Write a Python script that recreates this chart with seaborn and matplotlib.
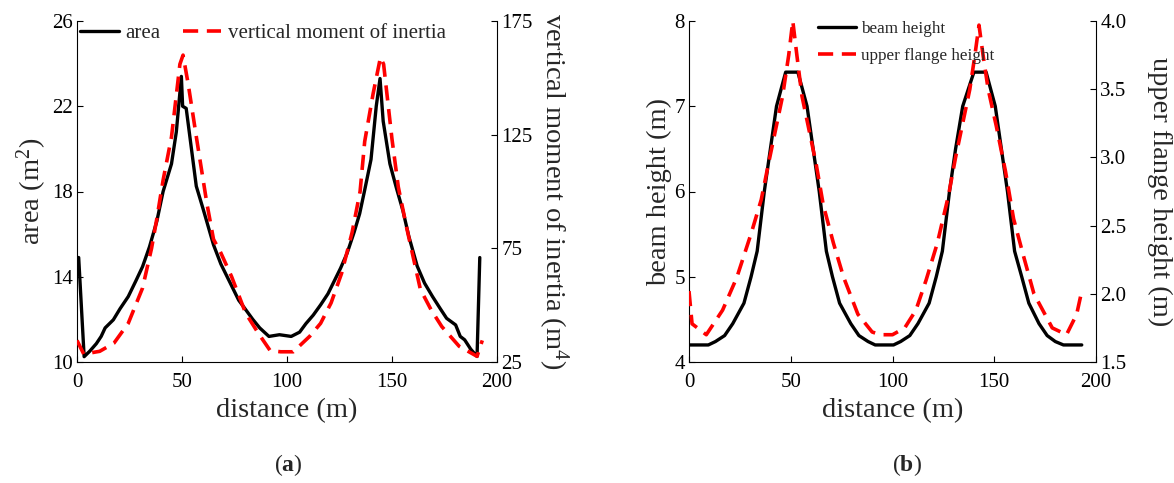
import numpy as np
import pandas as pd
import matplotlib
matplotlib.use("Agg")
import matplotlib.pyplot as plt
import seaborn as sns

# ---------------- data (a) ----------------
area_x = [0, 0.8, 3.4, 6, 9.2, 11.5, 13.4, 17.3, 20.5, 24.4, 28, 31.2, 34.5, 38, 41, 45, 47.3,
          49.7, 50.3, 52, 54.5, 56.8, 60, 65, 68.5, 72, 77, 80, 83.7, 87, 91.4, 96.4, 102, 106,
          109, 112.5, 116, 119.5, 122.7, 125.5, 128.6, 132, 134.6, 137, 140, 142.5, 144.3, 145.8,
          149, 152, 155.2, 158, 162, 165.5, 169.3, 173, 176, 180.3, 182.5, 184.6, 187.5, 190.5, 191.8]
area_y = [14.9, 14.9, 10.25, 10.5, 10.86, 11.2, 11.6, 11.98, 12.5, 13.07, 13.8, 14.47, 15.4, 16.6,
          18.0, 19.3, 20.8, 23.4, 22.0, 21.9, 20.0, 18.25, 17.2, 15.5, 14.6, 13.9, 12.9, 12.5, 12.0,
          11.6, 11.2, 11.28, 11.2, 11.4, 11.8, 12.2, 12.68, 13.2, 13.84, 14.4, 15.1, 16.1, 16.96,
          18.07, 19.5, 22.0, 23.3, 21.3, 19.3, 18.2, 17.1, 15.9, 14.5, 13.7, 13.07, 12.5, 12.05,
          11.74, 11.2, 11.04, 10.6, 10.26, 14.9]

inertia_x = [0, 3.2, 10.8, 17.6, 24.4, 31.2, 35.5, 38, 41, 45, 49, 50.5, 53, 57, 61.8, 65, 68.5,
             73.6, 80.3, 86.3, 92, 97, 103, 110.8, 116, 121, 126, 131, 134.8, 137, 141, 144.5,
             146, 150, 153, 157, 163.5, 168.6, 173.7, 182, 190.5, 193]
inertia_y = [34.5, 28.5, 29.7, 33.3, 42, 57.5, 75, 88, 105, 124, 156, 160, 147, 123, 95, 79, 73,
             62.6, 46.5, 37.7, 30, 29.5, 29.5, 36.3, 42, 51, 64, 82, 100, 122, 143, 159,
             156, 123, 102, 84, 57, 48, 40.6, 31.9, 27.5, 34.5]

# ---------------- data (b) ----------------
beam_x = [0, 9.5, 13, 17.5, 21.5, 27, 30.5, 33.5, 37, 40, 43, 47.5, 53.5, 58, 61, 64, 67.5, 70.5,
          74, 79.5, 83.5, 88, 91.5, 100.5, 104, 108.5, 112.5, 118, 121.5, 124.5, 128, 131, 134.5,
          140, 146, 150.5, 153.5, 156.5, 160, 163.5, 167, 172, 176, 180, 184, 193]
beam_y = [4.2, 4.2, 4.24, 4.31, 4.45, 4.69, 5.0, 5.3, 6.0, 6.5, 7.0, 7.4, 7.4, 7.0, 6.5, 6.0, 5.3,
          5.0, 4.69, 4.45, 4.31, 4.24, 4.2, 4.2, 4.24, 4.31, 4.45, 4.69, 5.0, 5.3, 6.0, 6.5, 7.0,
          7.4, 7.4, 7.0, 6.5, 6.0, 5.3, 5.0, 4.69, 4.45, 4.31, 4.24, 4.2, 4.2]

flange_x = [0, 1.5, 8.5, 16.5, 23.5, 30.5, 35.5, 39, 42.5, 46, 49, 51, 53, 55.5, 59, 62.5, 66, 71,
            76, 83, 90, 94, 100, 106, 111.5, 116.5, 122, 127.5, 131, 134.5, 138, 140.5, 142.5,
            144.5, 147, 151, 155.5, 159.5, 164.5, 169.5, 178.5, 185.5, 190.5, 193]
flange_y = [2.02, 1.78, 1.70, 1.88, 2.12, 2.44, 2.69, 2.95, 3.2, 3.45, 3.75, 4.0, 3.75, 3.45, 3.2,
            2.95, 2.65, 2.37, 2.12, 1.85, 1.72, 1.70, 1.70, 1.75, 1.88, 2.1, 2.37, 2.72, 3.0, 3.25,
            3.5, 3.75, 3.97, 3.75, 3.5, 3.23, 2.9, 2.55, 2.27, 2.0, 1.75, 1.70, 1.85, 2.02]

x_ticks = [0, 50, 100, 150, 200]
area_ticks = [10, 14, 18, 22, 26]
inertia_ticks = [25, 75, 125, 175]
beam_ticks = [4, 5, 6, 7, 8]
flange_ticks = [1.5, 2.0, 2.5, 3.0, 3.5, 4.0]

sns.set_style("ticks")
plt.rcParams["font.family"] = ["Liberation Serif", "DejaVu Serif"]
plt.rcParams["mathtext.fontset"] = "custom"
plt.rcParams["mathtext.rm"] = "Liberation Serif"
plt.rcParams["mathtext.it"] = "Liberation Serif:italic"
plt.rcParams["mathtext.bf"] = "Liberation Serif:bold"

W, H = 1174, 483
fig = plt.figure(figsize=(W / 100, H / 100), dpi=100)

TICK_FS = 15
LABEL_FS = 20.5
BLACK_LW = 2.4
RED_LW = 2.6
DASH = (0, (4.2, 2.4))


def style_axes(ax, twin):
    for a in (ax, twin):
        a.spines["top"].set_visible(False)
        for s in a.spines.values():
            s.set_linewidth(0.8)
            s.set_color("black")
        a.tick_params(direction="in", length=4.5, width=0.8, labelsize=TICK_FS, colors="black")
    ax.spines["right"].set_visible(False)
    twin.spines["left"].set_visible(False)
    twin.spines["bottom"].set_visible(False)
    ax.tick_params(axis="x", pad=8)
    ax.tick_params(axis="y", pad=3)
    twin.tick_params(axis="y", pad=3)


def right_label(twin, text, xfrac):
    twin.set_ylabel(text, fontsize=LABEL_FS)
    lab = twin.yaxis.label
    lab.set_rotation(270)
    lab.set_rotation_mode("default")
    lab.set_horizontalalignment("left")
    lab.set_verticalalignment("center")
    twin.yaxis.set_label_coords(xfrac, 0.5)


# ---------------- (a) ----------------
axA = fig.add_axes([77 / W, 1 - 362 / H, 420 / W, 341 / H])
axA2 = axA.twinx()
dfa = pd.DataFrame({"distance": area_x, "area": area_y})
dfi = pd.DataFrame({"distance": inertia_x, "inertia": inertia_y})
sns.lineplot(data=dfa, x="distance", y="area", ax=axA, color="black", lw=BLACK_LW,
             sort=False, label="area", legend=False)
sns.lineplot(data=dfi, x="distance", y="inertia", ax=axA2, color="#ff0000", lw=RED_LW,
             sort=False, label="vertical moment of inertia", legend=False)
axA2.lines[0].set_linestyle(DASH)
axA.set_xlim(0, 200)
axA.set_ylim(10, 26)
axA2.set_ylim(25, 175)
axA.set_xticks(x_ticks)
axA.set_yticks(area_ticks)
axA2.set_yticks(inertia_ticks)
style_axes(axA, axA2)
axA.set_xlabel("distance (m)", fontsize=LABEL_FS, labelpad=4)
axA.set_ylabel("area (m$^2$)", fontsize=LABEL_FS, labelpad=2)
right_label(axA2, "vertical moment of inertia (m$^4$)", 1 + 39 / 420)
hA = axA.get_lines() + axA2.get_lines()
legA = axA2.legend(handles=hA, labels=[l.get_label() for l in hA], ncol=2, frameon=False,
                   loc="center left", bbox_to_anchor=(3 / 420, 1 - 12 / 341),
                   fontsize=15, handlelength=1.85, handletextpad=0.3, columnspacing=1.1,
                   borderpad=0, borderaxespad=0)

# ---------------- (b) ----------------
axB = fig.add_axes([689 / W, 1 - 362 / H, 407 / W, 341 / H])
axB2 = axB.twinx()
dfb = pd.DataFrame({"distance": beam_x, "beam": beam_y})
dff = pd.DataFrame({"distance": flange_x, "flange": flange_y})
sns.lineplot(data=dfb, x="distance", y="beam", ax=axB, color="black", lw=BLACK_LW,
             sort=False, label="beam height", legend=False)
sns.lineplot(data=dff, x="distance", y="flange", ax=axB2, color="#ff0000", lw=RED_LW,
             sort=False, label="upper flange height", legend=False)
axB2.lines[0].set_linestyle(DASH)
axB.set_xlim(0, 200)
axB.set_ylim(4, 8)
axB2.set_ylim(1.5, 4.0)
axB.set_xticks(x_ticks)
axB.set_yticks(beam_ticks)
axB2.set_yticks(flange_ticks)
axB2.set_yticklabels([f"{v:.1f}" for v in flange_ticks])
style_axes(axB, axB2)
axB.set_xlabel("distance (m)", fontsize=LABEL_FS, labelpad=4)
axB.set_ylabel("beam height (m)", fontsize=LABEL_FS, labelpad=2)
right_label(axB2, "upper flange height (m)", 1 + 51 / 407)
hB = axB.get_lines() + axB2.get_lines()
legB = axB2.legend(handles=hB, labels=[l.get_label() for l in hB], ncol=1, frameon=False,
                   loc="center left", bbox_to_anchor=((818 - 689) / 407, 1 - 21.5 / 341),
                   fontsize=12.3, handlelength=2.2, handletextpad=0.3, labelspacing=0.6,
                   borderpad=0, borderaxespad=0)

fig.text(288 / W, 1 - 465 / H, r"($\mathbf{a}$)", ha="center", va="center", fontsize=17)
fig.text(907 / W, 1 - 465 / H, r"($\mathbf{b}$)", ha="center", va="center", fontsize=17)

fig.savefig("out.png", dpi=100)
